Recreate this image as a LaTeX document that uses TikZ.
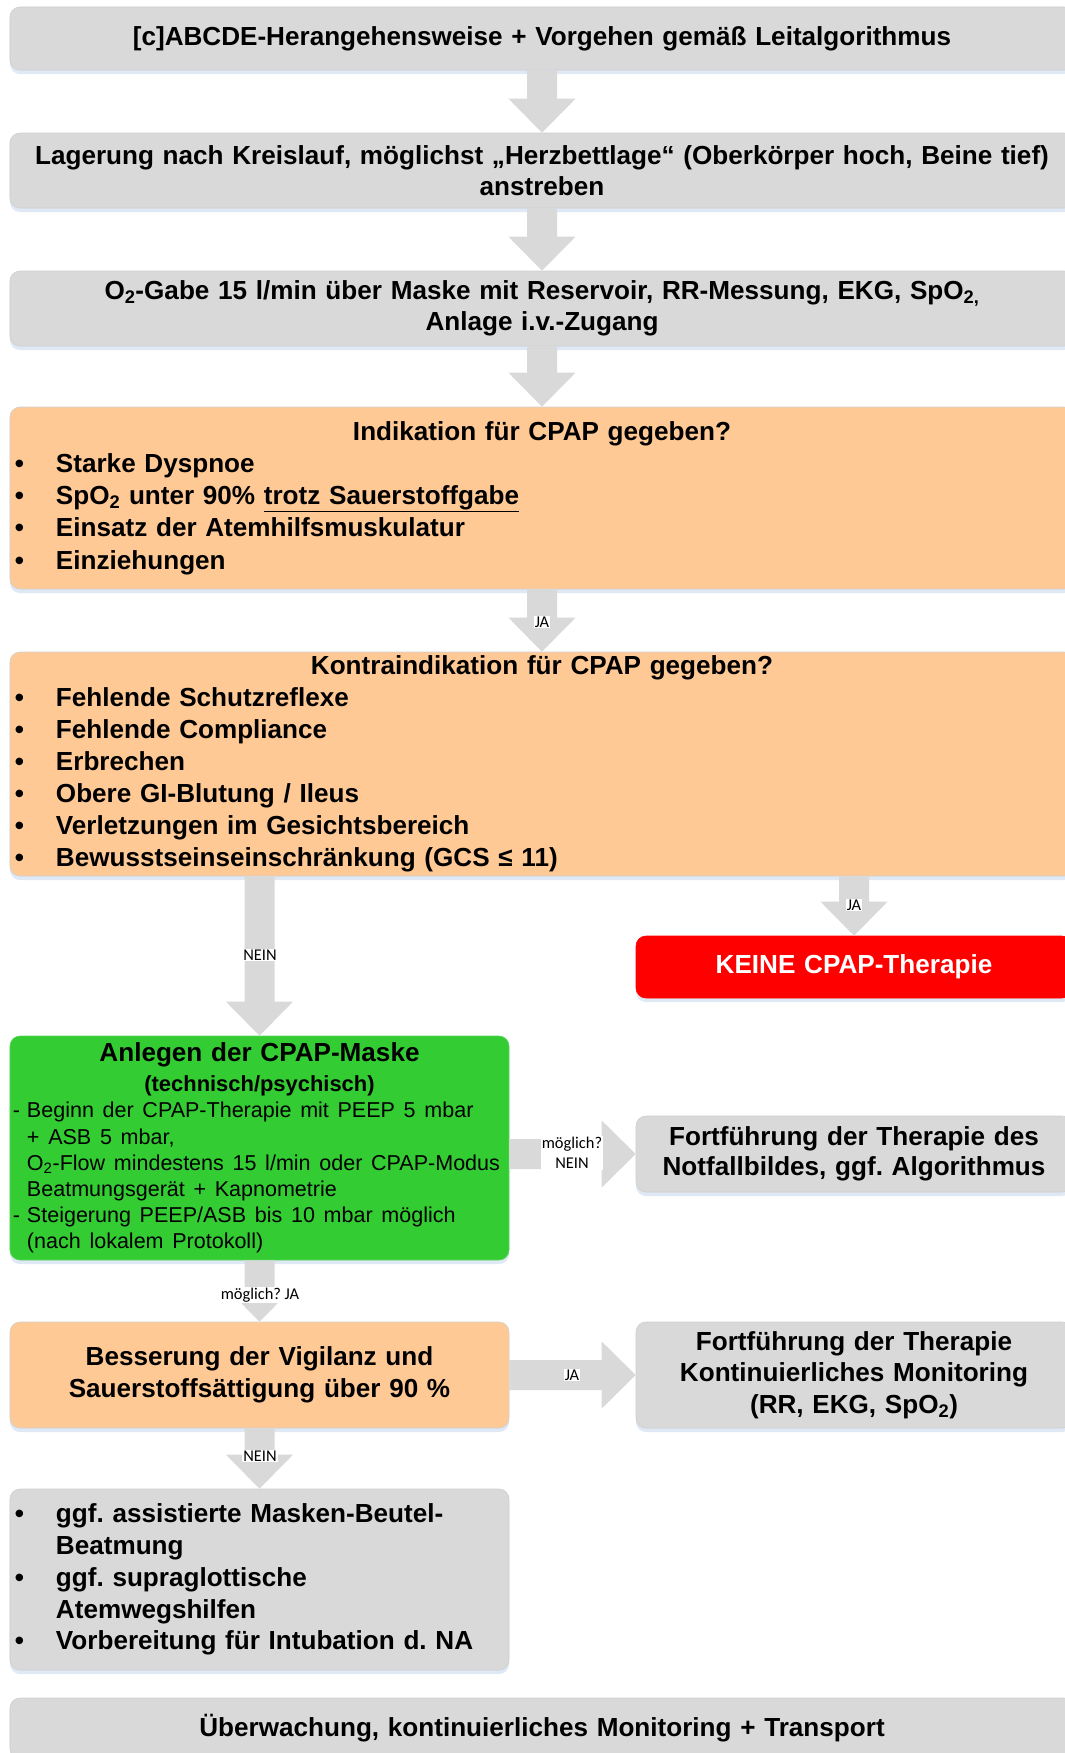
\documentclass[tikz,border=0pt]{standalone}
\usepackage{fontspec}
\setmainfont{Liberation Sans}
\newfontfamily\lblfont{Carlito}
\usetikzlibrary{calc,shadows}
\frenchspacing

\definecolor{boxgrey}{HTML}{D9D9D9}
\definecolor{peach}{HTML}{FFC996}
\definecolor{cpapgreen}{HTML}{33CC33}
\definecolor{alertred}{HTML}{FF0000}
\definecolor{shade}{HTML}{DFE8F5}
\definecolor{rim}{HTML}{CFCFCF}

% bullet entry and its continuation line
\newcommand\bitem[1]{\makebox[41bp][l]{\textbullet}#1\par}
\newcommand\bcont[1]{\hspace*{41bp}#1\par}

% block arrows between two nodes (placed at the target's axis)
\newcommand\downarr[2]{%
  \fill[arrowfill] let \p1=(#1.south), \p2=(#2.north) in
    ({\x2-15bp},{\y1}) -- ({\x2+15bp},{\y1}) -- ({\x2+15bp},{\y2+34bp}) --
    ({\x2+33.5bp},{\y2+34bp}) -- (\x2,\y2) -- ({\x2-33.5bp},{\y2+34bp}) --
    ({\x2-15bp},{\y2+34bp}) -- cycle;}
\newcommand\rightarr[2]{%
  \fill[arrowfill] let \p1=(#1.east), \p2=(#2.west) in
    ({\x1},{\y2+15bp}) -- ({\x2-34bp},{\y2+15bp}) -- ({\x2-34bp},{\y2+33.5bp}) --
    (\x2,\y2) -- ({\x2-34bp},{\y2-33.5bp}) -- ({\x2-34bp},{\y2-15bp}) --
    ({\x1},{\y2-15bp}) -- cycle;}

\tikzset{
  box/.style={rectangle, rounded corners=10bp, draw=rim, line width=0.6bp,
    inner xsep=5bp, inner ysep=0pt,
    drop shadow={shadow xshift=0bp, shadow yshift=-4bp, fill=shade, opacity=1},
    font=\fontsize{26.2}{31.5}\selectfont\bfseries},
  wide/.style={box, minimum width=1064bp, text width=1054bp},
  leftcol/.style={box, minimum width=499bp, text width=489bp},
  rightcol/.style={box, minimum width=436bp, text width=426bp},
  lbl/.style={fill=white, inner sep=1bp, align=center,
    font=\lblfont\fontsize{16.5}{20}\selectfont},
  arrowfill/.style={fill=boxgrey}
}

\begin{document}
\begin{tikzpicture}[x=1bp,y=-1bp]
\useasboundingbox (0,0) rectangle (1064,1753);
\fill[white] (0,0) rectangle (1064,1753);

% main column
\node[wide, fill=boxgrey, minimum height=63bp, align=center] (b1) at (542,38.5)
  {{[}c{]}ABCDE-Herangehensweise + Vorgehen gemäß Leitalgorithmus};
\node[wide, fill=boxgrey, minimum height=75bp, align=center] (b2) at (542,170.5)
  {Lagerung nach Kreislauf, möglichst „Herzbettlage“ (Oberkörper hoch, Beine tief)\\anstreben};
\node[wide, fill=boxgrey, minimum height=75bp, align=center] (b3) at (542,308.5)
  {O\textsubscript{2}-Gabe 15 l/min über Maske mit Reservoir, RR-Messung, EKG, SpO\textsubscript{2,}\\Anlage i.v.-Zugang};
\node[wide, fill=peach, minimum height=182bp, align=left,
  font=\fontsize{26.2}{32.4}\selectfont\bfseries] (b4) at (542,498)
  {\parindent=0pt{\centering Indikation für CPAP gegeben?\par}
   \bitem{Starke Dyspnoe}
   \bitem{SpO\textsubscript{2} unter 90\% \underline{trotz Sauerstoffgabe}}
   \bitem{Einsatz der Atemhilfsmuskulatur}
   \bitem{Einziehungen}};
\node[wide, fill=peach, minimum height=224bp, align=left,
  font=\fontsize{26.2}{32.2}\selectfont\bfseries] (b5) at (542,764)
  {\parindent=0pt{\centering Kontraindikation für CPAP gegeben?\par}
   \bitem{Fehlende Schutzreflexe}
   \bitem{Fehlende Compliance}
   \bitem{Erbrechen}
   \bitem{Obere GI-Blutung / Ileus}
   \bitem{Verletzungen im Gesichtsbereich}
   \bitem{Bewusstseinseinschränkung (GCS ≤ 11)}};

\node[rightcol, fill=alertred, draw=alertred, minimum height=62bp, align=center, text=white] (keine) at (854,967)
  {KEINE CPAP-Therapie};

\node[leftcol, fill=cpapgreen, draw=cpapgreen!80!white, minimum height=224bp, align=left,
  inner xsep=3bp, text width=493bp] (green) at (259.5,1148)
  {\parindent=0pt
   {\centering\fontsize{26.2}{30}\selectfont Anlegen der CPAP-Maske\par}
   {\centering\fontsize{22}{30}\selectfont (technisch/psychisch)\par}
   {\mdseries\fontsize{21.6}{26.2}\selectfont
    \mbox{\makebox[14bp][l]{-}Beginn der CPAP-Therapie mit PEEP 5 mbar}\par
    \mbox{\hspace*{14bp}+ ASB 5 mbar,}\par
    \mbox{\hspace*{14bp}O\textsubscript{2}-Flow mindestens 15 l/min oder CPAP-Modus}\par
    \mbox{\hspace*{14bp}Beatmungsgerät + Kapnometrie}\par
    \mbox{\makebox[14bp][l]{-}Steigerung PEEP/ASB bis 10 mbar möglich}\par
    \mbox{\hspace*{14bp}(nach lokalem Protokoll)}\par}};

\node[rightcol, fill=boxgrey, minimum height=76bp, align=center,
  font=\fontsize{26.2}{30}\selectfont\bfseries] (fort1) at (854,1154)
  {Fortführung der Therapie des\\Notfallbildes, ggf. Algorithmus};

\node[leftcol, fill=peach, minimum height=106bp, align=center,
  font=\fontsize{26.2}{32}\selectfont\bfseries] (bess) at (259.5,1375)
  {Besserung der Vigilanz und\\Sauerstoffsättigung über 90 \%};
\node[rightcol, fill=boxgrey, minimum height=106bp, align=center] (fort2) at (854,1375)
  {Fortführung der Therapie\\Kontinuierliches Monitoring\\(RR, EKG, SpO\textsubscript{2})};

\node[leftcol, fill=boxgrey, minimum height=181bp, align=left,
  font=\fontsize{26.2}{32}\selectfont\bfseries] (list) at (259.5,1579.5)
  {\parindent=0pt
   \bitem{ggf. assistierte Masken-Beutel-}
   \bcont{Beatmung}
   \bitem{ggf. supraglottische}
   \bcont{Atemwegshilfen}
   \bitem{Vorbereitung für Intubation d. NA}};

\node[wide, fill=boxgrey, minimum height=60bp, align=center] (fin) at (542,1728)
  {Überwachung, kontinuierliches Monitoring + Transport};

% connectors
\downarr{b1}{b2}
\downarr{b2}{b3}
\downarr{b3}{b4}
\downarr{b4}{b5}
\downarr{b5}{keine}
\downarr{b5}{green}
\downarr{green}{bess}
\downarr{bess}{list}
\rightarr{green}{fort1}
\rightarr{bess}{fort2}

% connector labels
\node[lbl] (l1) at (542,622) {JA};
\node[lbl] (l2) at (854,905) {JA};
\node[lbl] (l3) at (260,955) {NEIN};
\node[lbl] (l4) at (572,1153) {möglich?\\NEIN};
\node[lbl] (l5) at (260,1295) {möglich? JA};
\node[lbl] (l6) at (572,1375) {JA};
\node[lbl] (l7) at (260,1456) {NEIN};
\end{tikzpicture}
\end{document}
